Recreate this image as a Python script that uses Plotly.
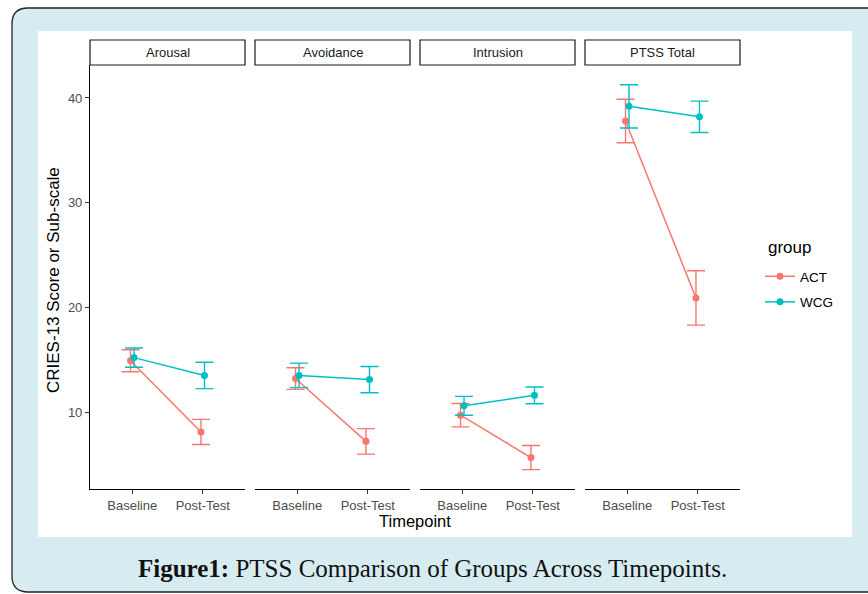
import plotly.graph_objects as go

W, H = 868, 594

facets = ["Arousal", "Avoidance", "Intrusion", "PTSS Total"]
timepoints = ["Baseline", "Post-Test"]
groups = ["ACT", "WCG"]
colors = {"ACT": "#F8766D", "WCG": "#00BFC4"}

# mean values per facet [Baseline, Post-Test]
act_mean = {"Arousal": [14.9, 8.1], "Avoidance": [13.2, 7.2],
            "Intrusion": [9.7, 5.65], "PTSS Total": [37.8, 20.9]}
wcg_mean = {"Arousal": [15.2, 13.5], "Avoidance": [13.5, 13.1],
            "Intrusion": [10.6, 11.6], "PTSS Total": [39.2, 38.2]}
# standard errors
act_se = {"Arousal": [1.05, 1.2], "Avoidance": [1.03, 1.22],
          "Intrusion": [1.12, 1.15], "PTSS Total": [2.08, 2.6]}
wcg_se = {"Arousal": [0.92, 1.26], "Avoidance": [1.17, 1.25],
          "Intrusion": [0.9, 0.8], "PTSS Total": [2.07, 1.5]}

means = {"ACT": act_mean, "WCG": wcg_mean}
ses = {"ACT": act_se, "WCG": wcg_se}
dodge = {"ACT": -0.025, "WCG": 0.025}

def px(x):
    return x / W

def py(y):
    return 1 - y / H

panel_x = [(90, 245), (255, 410), (420, 575), (585, 740)]
y_top, y_bot = 65, 489

fig = go.Figure()

for i, f in enumerate(facets):
    xa = "x" if i == 0 else f"x{i+1}"
    for g in groups:
        fig.add_trace(go.Scatter(
            x=[k + 1 + dodge[g] for k in range(len(timepoints))],
            y=means[g][f],
            error_y=dict(type="data", array=ses[g][f], visible=True,
                         color=colors[g], thickness=1.4, width=9),
            mode="lines+markers",
            line=dict(color=colors[g], width=1.5),
            marker=dict(color=colors[g], size=7),
            name=g, legendgroup=g, showlegend=(i == 0),
            xaxis=xa, yaxis="y", cliponaxis=False,
        ))

layout = dict(
    width=W, height=H,
    margin=dict(l=0, r=0, t=0, b=0),
    paper_bgcolor="white", plot_bgcolor="rgba(0,0,0,0)",
    font=dict(family="Liberation Sans, Arial, sans-serif", color="#4d4d4d", size=13),
    showlegend=True,
    legend=dict(
        font=dict(size=13.5, color="black"),
        x=px(760), y=py(261), xanchor="left", yanchor="top",
        bgcolor="rgba(0,0,0,0)", tracegroupgap=5,
    ),
    yaxis=dict(
        domain=[py(y_bot), py(y_top)], range=[2.65, 43.15],
        anchor="x", tickvals=[10, 20, 30, 40],
        showline=True, linecolor="black", linewidth=1.1,
        ticks="outside", ticklen=4, tickcolor="#333333", tickwidth=1,
        showgrid=False, zeroline=False,
        tickfont=dict(size=13, color="#4d4d4d"),
    ),
)
for i in range(4):
    key = "xaxis" if i == 0 else f"xaxis{i+1}"
    layout[key] = dict(
        domain=[px(panel_x[i][0]), px(panel_x[i][1])], range=[0.4, 2.6],
        anchor="y", tickvals=[1, 2], ticktext=timepoints,
        showline=True, linecolor="black", linewidth=1.1,
        ticks="outside", ticklen=4, tickcolor="#333333", tickwidth=1,
        showgrid=False, zeroline=False,
        tickfont=dict(size=13, color="#4d4d4d"),
    )
fig.update_layout(**layout)

# background frame (light blue, rounded corners)
r = 16
x0, xr, yt, yb = 12, 880, 8, 592
path = (f"M {px(x0 + r)},{py(yt)} L {px(xr)},{py(yt)} L {px(xr)},{py(yb)} "
        f"L {px(x0 + r)},{py(yb)} Q {px(x0)},{py(yb)} {px(x0)},{py(yb - r)} "
        f"L {px(x0)},{py(yt + r)} Q {px(x0)},{py(yt)} {px(x0 + r)},{py(yt)} Z")
shapes = [
    dict(type="path", path=path, xref="paper", yref="paper",
         fillcolor="#d7ecf1", line=dict(color="#222222", width=1.3), layer="below"),
    dict(type="rect", xref="paper", yref="paper",
         x0=px(38), x1=px(852), y0=py(537), y1=py(31),
         fillcolor="white", line=dict(width=0), layer="below"),
]
annotations = []
for i, f in enumerate(facets):
    a, b = panel_x[i]
    shapes.append(dict(type="rect", xref="paper", yref="paper",
                       x0=px(a), x1=px(b), y0=py(65), y1=py(40),
                       fillcolor="white", line=dict(color="#1a1a1a", width=1.2)))
    annotations.append(dict(text=f, xref="paper", yref="paper",
                            x=px((a + b) / 2), y=py(52.5), showarrow=False,
                            xanchor="center", yanchor="middle",
                            font=dict(size=13, color="#1a1a1a")))

annotations.append(dict(text="group", xref="paper", yref="paper",
                        x=px(766), y=py(247), showarrow=False,
                        xanchor="left", yanchor="middle",
                        font=dict(size=17, color="black")))
annotations.append(dict(text="Timepoint", xref="paper", yref="paper",
                        x=px(415), y=py(521), showarrow=False,
                        xanchor="center", yanchor="middle",
                        font=dict(size=16.5, color="black")))
annotations.append(dict(text="CRIES-13 Score or Sub-scale", xref="paper", yref="paper",
                        x=px(53), y=py(280), showarrow=False, textangle=-90,
                        xanchor="center", yanchor="middle",
                        font=dict(size=17, color="black")))
annotations.append(dict(text="<b>Figure1:</b> PTSS Comparison of Groups Across Timepoints.",
                        xref="paper", yref="paper",
                        x=px(432), y=py(568), showarrow=False,
                        xanchor="center", yanchor="middle",
                        font=dict(size=25, color="#111111",
                                  family="Liberation Serif, DejaVu Serif, serif")))
fig.update_layout(shapes=shapes, annotations=annotations)

fig.write_html("out.html", config={"displayModeBar": False},
               post_script="document.body.style.margin='0';document.body.style.padding='0';")
